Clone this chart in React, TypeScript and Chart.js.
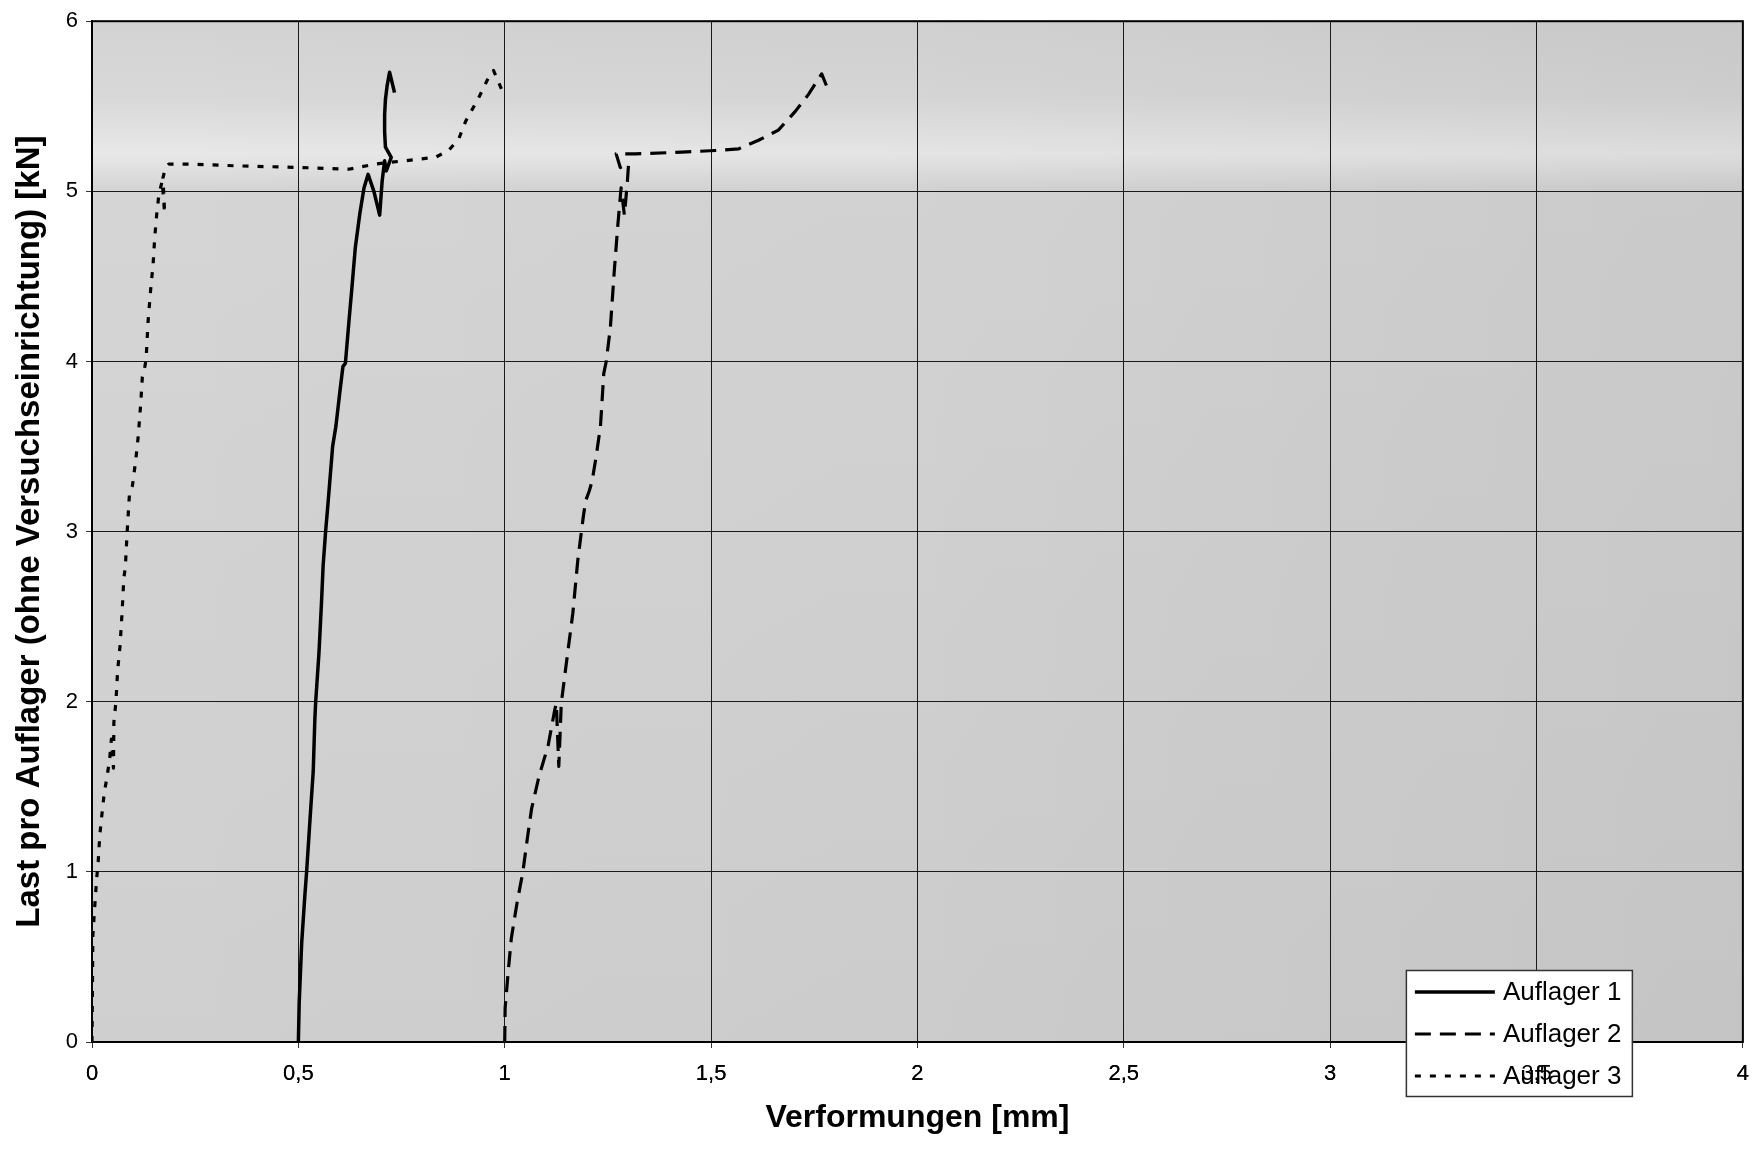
import React, { useEffect, useRef } from 'react';
import { Chart, registerables } from 'chart.js';

Chart.register(...registerables);

const FONT = "'Liberation Sans', Arial, Helvetica, sans-serif";

const seriesLabels = ['Auflager 1', 'Auflager 2', 'Auflager 3'];

const auflager1X = [0.500, 0.502, 0.508, 0.516, 0.520, 0.528, 0.536, 0.540, 0.542, 0.550, 0.556, 0.560, 0.566, 0.572, 0.583, 0.591, 0.600, 0.608, 0.614, 0.622, 0.630, 0.638, 0.649, 0.659, 0.669, 0.683, 0.697, 0.703, 0.709, 0.713, 0.725, 0.711, 0.709, 0.709, 0.711, 0.715, 0.721, 0.727, 0.733];
const auflager1Y = [0.00, 0.23, 0.58, 0.87, 1.00, 1.30, 1.59, 1.90, 2.00, 2.29, 2.58, 2.80, 3.00, 3.17, 3.50, 3.62, 3.81, 3.97, 3.99, 4.22, 4.44, 4.67, 4.87, 5.02, 5.10, 5.00, 4.86, 5.06, 5.18, 5.12, 5.20, 5.26, 5.35, 5.45, 5.54, 5.62, 5.70, 5.64, 5.58];

const auflager2X = [1.000, 1.001, 1.008, 1.016, 1.030, 1.044, 1.055, 1.065, 1.081, 1.089, 1.105, 1.121, 1.125, 1.131, 1.134, 1.137, 1.149, 1.165, 1.177, 1.190, 1.196, 1.205, 1.212, 1.222, 1.232, 1.240, 1.246, 1.256, 1.266, 1.274, 1.282, 1.290, 1.297, 1.300, 1.280, 1.270, 1.316, 1.429, 1.510, 1.567, 1.615, 1.663, 1.704, 1.736, 1.768, 1.783];
const auflager2Y = [0.00, 0.20, 0.40, 0.61, 0.82, 1.00, 1.20, 1.37, 1.54, 1.61, 1.74, 1.95, 1.99, 1.62, 1.80, 1.99, 2.22, 2.52, 2.83, 3.08, 3.18, 3.24, 3.30, 3.45, 3.62, 3.93, 4.00, 4.20, 4.55, 4.80, 5.02, 4.86, 5.05, 5.16, 5.14, 5.22, 5.22, 5.23, 5.24, 5.25, 5.30, 5.36, 5.47, 5.57, 5.69, 5.60];

const auflager3X = [0.000, 0.001, 0.002, 0.007, 0.011, 0.015, 0.019, 0.025, 0.030, 0.036, 0.043, 0.047, 0.052, 0.053, 0.058, 0.062, 0.068, 0.073, 0.077, 0.081, 0.085, 0.091, 0.098, 0.106, 0.112, 0.118, 0.122, 0.128, 0.131, 0.136, 0.142, 0.148, 0.152, 0.157, 0.162, 0.170, 0.176, 0.172, 0.178, 0.186, 0.199, 0.243, 0.348, 0.509, 0.622, 0.687, 0.719, 0.760, 0.832, 0.864, 0.889, 0.905, 0.937, 0.961, 0.973, 0.994];
const auflager3Y = [0.00, 0.30, 0.62, 0.81, 0.95, 1.06, 1.22, 1.36, 1.47, 1.55, 1.67, 1.78, 1.61, 1.88, 2.00, 2.18, 2.33, 2.53, 2.72, 2.80, 2.99, 3.23, 3.27, 3.42, 3.56, 3.75, 3.91, 3.97, 4.01, 4.24, 4.42, 4.57, 4.73, 4.87, 4.98, 5.06, 4.87, 5.08, 5.14, 5.16, 5.16, 5.16, 5.15, 5.14, 5.13, 5.16, 5.17, 5.18, 5.20, 5.24, 5.31, 5.41, 5.55, 5.67, 5.71, 5.59];

const xTickLabels = ['0', '0,5', '1', '1,5', '2', '2,5', '3', '3,5', '4'];
const yTickLabels = ['0', '1', '2', '3', '4', '5', '6'];

const xTitle = 'Verformungen [mm]';
const yTitle = 'Last pro Auflager (ohne Versuchseinrichtung) [kN]';

function toPoints(xs: number[], ys: number[]) {
  return xs.map((x, i) => ({ x, y: ys[i] }));
}

const backgroundPlugin = {
  id: 'plotBackground',
  beforeDraw(chart: any) {
    const { ctx, chartArea: a, width, height } = chart;
    ctx.save();
    ctx.fillStyle = '#ffffff';
    ctx.fillRect(0, 0, width, height);
    const ys = chart.scales.y;
    const f = (v: number) => (ys.getPixelForValue(v) - a.top) / (a.bottom - a.top);
    const g = ctx.createLinearGradient(0, a.top, 0, a.bottom);
    g.addColorStop(0, '#d3d3d3');
    g.addColorStop(f(5.55), '#d8d8d8');
    g.addColorStop(f(5.22), '#e8e8e8');
    g.addColorStop(f(5.02), '#d5d5d5');
    g.addColorStop(1, '#cfcfcf');
    ctx.fillStyle = g;
    ctx.fillRect(a.left, a.top, a.right - a.left, a.bottom - a.top);
    const h = ctx.createLinearGradient(a.left, 0, a.right, 0);
    h.addColorStop(0, 'rgba(0,0,0,0)');
    h.addColorStop(0.5, 'rgba(0,0,0,0.015)');
    h.addColorStop(1, 'rgba(0,0,0,0.05)');
    ctx.fillStyle = h;
    ctx.fillRect(a.left, a.top, a.right - a.left, a.bottom - a.top);
    ctx.restore();
  },
  beforeDatasetsDraw(chart: any) {
    const { ctx, chartArea: a } = chart;
    ctx.save();
    ctx.strokeStyle = '#000';
    ctx.lineWidth = 2;
    ctx.strokeRect(a.left, a.top, a.right - a.left, a.bottom - a.top);
    ctx.restore();
  },
};

const boxLegendPlugin = {
  id: 'boxLegend',
  afterDraw(chart: any) {
    const { ctx, chartArea: a } = chart;
    const boxW = 226;
    const boxH = 126;
    const left = a.right - 337;
    const top = a.bottom - 72;
    ctx.save();
    ctx.fillStyle = '#ffffff';
    ctx.fillRect(left, top, boxW, boxH);
    ctx.strokeStyle = '#333';
    ctx.lineWidth = 1.5;
    ctx.strokeRect(left + 0.5, top + 0.5, boxW, boxH);
    chart.data.datasets.forEach((ds: any, i: number) => {
      const y = top + 22 + i * 42;
      ctx.beginPath();
      ctx.setLineDash(ds.borderDash || []);
      ctx.lineWidth = ds.borderWidth;
      ctx.strokeStyle = ds.borderColor;
      ctx.moveTo(left + 9, y);
      ctx.lineTo(left + 89, y);
      ctx.stroke();
      ctx.setLineDash([]);
      ctx.fillStyle = '#000';
      ctx.font = `26px ${FONT}`;
      ctx.textBaseline = 'middle';
      ctx.textAlign = 'left';
      ctx.fillText(ds.label, left + 97, y + 1);
    });
    ctx.restore();
    ctx.save();
    chart.scales.x.drawLabels(a);
    ctx.restore();
  },
};

export default function App() {
  const canvasRef = useRef<HTMLCanvasElement | null>(null);

  useEffect(() => {
    const canvas = canvasRef.current;
    if (!canvas) return;
    const common = {
      borderColor: '#000',
      pointRadius: 0,
      pointHoverRadius: 0,
      showLine: true,
      fill: false,
      tension: 0,
      borderCapStyle: 'butt',
      borderJoinStyle: 'round',
    };
    const chart = new Chart(canvas, {
      type: 'scatter',
      data: {
        datasets: [
          { ...common, label: seriesLabels[0], data: toPoints(auflager1X, auflager1Y), borderDash: [], borderWidth: 3.5 },
          { ...common, label: seriesLabels[1], data: toPoints(auflager2X, auflager2Y), borderDash: [16, 9], borderWidth: 3.2 },
          { ...common, label: seriesLabels[2], data: toPoints(auflager3X, auflager3Y), borderDash: [6, 9], borderWidth: 3.2 },
        ],
      } as any,
      options: {
        responsive: false,
        animation: false,
        devicePixelRatio: 1,
        layout: { padding: { top: 17, right: 17, left: 0, bottom: 0 } },
        plugins: {
          legend: { display: false },
          tooltip: { enabled: false },
        },
        scales: {
          x: {
            type: 'linear',
            min: 0,
            max: 4,
            ticks: {
              stepSize: 0.5,
              autoSkip: false,
              maxRotation: 0,
              padding: 13,
              color: '#000',
              font: { family: FONT, size: 22 },
              callback: (_v: any, i: number) => xTickLabels[i],
            },
            grid: { color: '#1a1a1a', lineWidth: 1, tickLength: 6, tickColor: '#333', drawTicks: true },
            border: { color: '#000', width: 2 },
            title: {
              display: true,
              text: xTitle,
              color: '#000',
              font: { family: FONT, size: 32, weight: 'bold' },
              padding: { top: 0, bottom: 12 },
            },
            afterFit: (s: any) => { s.height = 107; },
          },
          y: {
            type: 'linear',
            min: 0,
            max: 6,
            ticks: {
              stepSize: 1,
              padding: 8,
              color: '#000',
              font: { family: FONT, size: 22 },
              callback: (v: any) => yTickLabels[Math.round(Number(v))],
            },
            grid: { color: '#1a1a1a', lineWidth: 1, tickLength: 6, tickColor: '#333', drawTicks: true },
            border: { color: '#000', width: 2 },
            title: {
              display: true,
              text: yTitle,
              color: '#000',
              font: { family: FONT, size: 33, weight: 'bold' },
              padding: { top: 10, bottom: 0 },
            },
            afterFit: (s: any) => { s.width = 92; },
          },
        },
      } as any,
      plugins: [backgroundPlugin, boxLegendPlugin],
    });
    return () => chart.destroy();
  }, []);

  return (
    <div style={{ position: 'fixed', left: 0, top: 0, width: 1762, height: 1149, background: '#fff' }}>
      <canvas ref={canvasRef} width={1762} height={1149} style={{ display: 'block' }} />
    </div>
  );
}
